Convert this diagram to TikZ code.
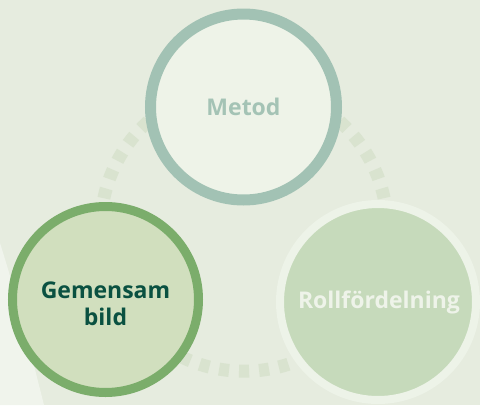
\documentclass[tikz,border=0pt]{standalone}
\usepackage{fontspec}
\setmainfont{Open Sans}
\definecolor{bgcol}{HTML}{E6ECDF}
\definecolor{bglight}{HTML}{F0F4EC}
\definecolor{dashcol}{HTML}{D9E3CF}
\definecolor{metring}{HTML}{A2C2B4}
\definecolor{metfill}{HTML}{EEF3E8}
\definecolor{mettext}{HTML}{A4C3B5}
\definecolor{gemring}{HTML}{7BAD6B}
\definecolor{gemfill}{HTML}{D1DFBE}
\definecolor{gemtext}{HTML}{0A5141}
\definecolor{rollring}{HTML}{EDF3E8}
\definecolor{rollfill}{HTML}{C6DABB}
\definecolor{rolltext}{HTML}{EEF3E9}
\tikzset{
  bubble/.style={circle, inner sep=0pt},
  bubbletext/.style={inner sep=0pt, font=\bfseries\fontsize{23}{27}\selectfont, align=center},
  dashring/.style={draw=dashcol, line width=13pt, dash pattern=on 10pt off 10pt, dash phase=5pt}
}
\begin{document}
\begin{tikzpicture}[x=1pt, y=-1pt]
\useasboundingbox (0,0) rectangle (480,405);
\fill[bgcol] (0,0) rectangle (480,405);
\fill[bglight] (0,243) .. controls (18,300) and (30,350) .. (44,405) -- (0,405) -- cycle;
\draw[dashring] (244,371.24) arc[start angle=90, end angle=450, radius=143.24];
\node[bubble, draw=metring, fill=metfill, line width=11pt, minimum size=186pt] (metod) at (243.5,107) {};
\node[bubbletext, text=mettext] (metodlabel) at (243.5,107) {Metod};
\node[bubble, draw=gemring, fill=gemfill, line width=9pt, minimum size=186pt] (gem) at (105.5,299.5) {};
\node[bubbletext, text=gemtext] (gemlabel) at (105.5,304) {Gemensam\\bild};
\node[bubble, draw=rollring, fill=rollfill, line width=8pt, minimum size=196pt] (roll) at (378,302) {};
\node[bubbletext, text=rolltext] (rolllabel) at (379,302.5) {Rollfördelning};
\end{tikzpicture}
\end{document}
